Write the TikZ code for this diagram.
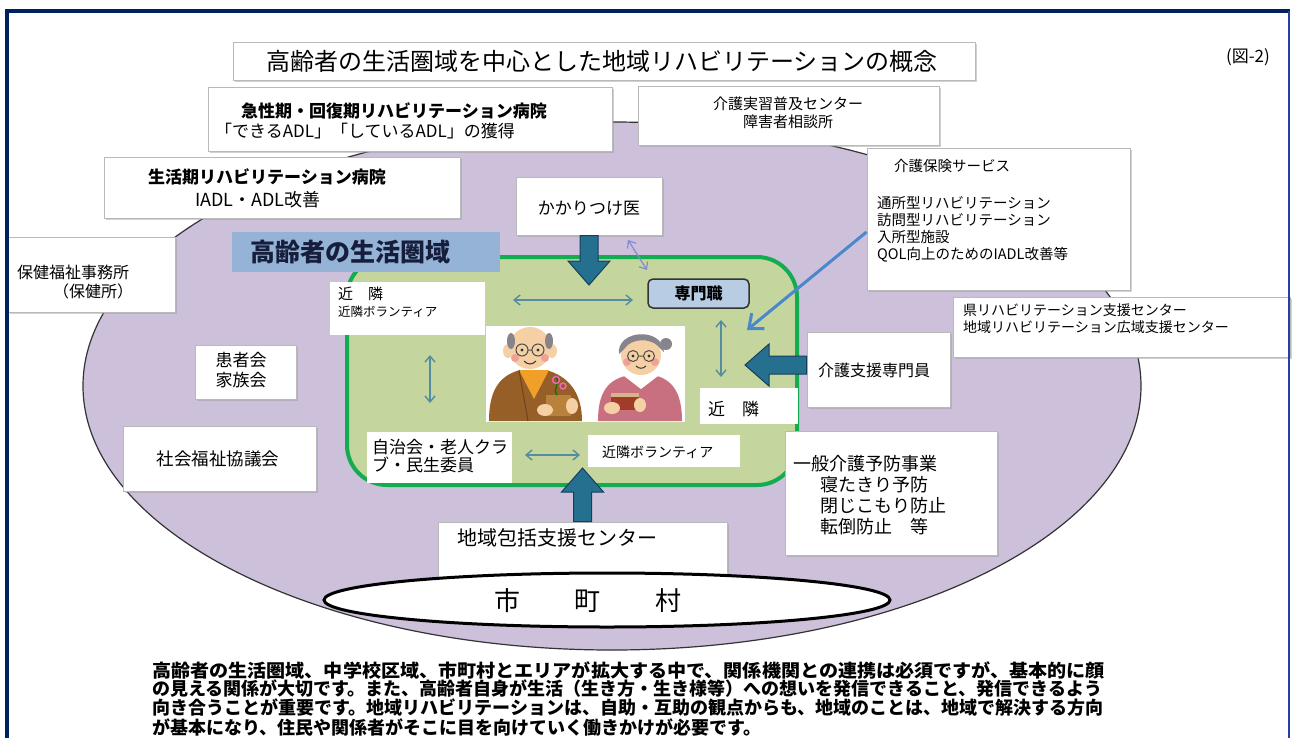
\documentclass[tikz,border=0pt]{standalone}
\usepackage{fontspec}
\usepackage{graphicx}
\setmainfont{Noto Sans CJK JP}
\usetikzlibrary{calc,arrows.meta,shadows}

\definecolor{navy}{RGB}{0,32,96}
\definecolor{rightline}{RGB}{40,60,170}
\definecolor{lav}{RGB}{204,192,218}
\definecolor{zonefill}{RGB}{196,214,158}
\definecolor{zoneline}{RGB}{20,172,80}
\definecolor{tag}{RGB}{149,179,215}
\definecolor{tagtext}{RGB}{22,30,60}
\definecolor{proflab}{RGB}{184,204,228}
\definecolor{bigarrow}{RGB}{38,112,143}
\definecolor{bigarrowline}{RGB}{22,62,92}
\definecolor{thinarrow}{RGB}{84,140,160}
\definecolor{thinpurple}{RGB}{135,135,210}
\definecolor{linkblue}{RGB}{75,135,205}
\definecolor{boxline}{RGB}{185,185,185}
\definecolor{skin}{RGB}{246,208,165}
\definecolor{cheek}{RGB}{240,160,150}
\definecolor{mancoat}{RGB}{150,95,40}
\definecolor{manshirt}{RGB}{240,160,40}
\definecolor{womancoat}{RGB}{200,112,128}
\definecolor{hairgray}{RGB}{135,132,140}
\definecolor{cupgold}{RGB}{185,130,60}
\definecolor{cupred}{RGB}{160,60,40}

\newcommand\fsz[2]{\fontsize{#1pt}{#2pt}\selectfont}

% filled block arrow from #1 to #2 (shaft 18, head 42 wide, 24 long)
\newcommand\blockarrow[2]{%
  \coordinate (ba-h) at ($(#2)!24pt!(#1)$);
  \filldraw[fill=bigarrow, draw=bigarrowline, line width=1pt, line join=miter]
    ($(#1)!9pt!90:(#2)$) -- ($(ba-h)!9pt!90:(#2)$) -- ($(ba-h)!21pt!90:(#2)$)
    -- (#2) -- ($(ba-h)!21pt!-90:(#2)$) -- ($(ba-h)!9pt!-90:(#2)$)
    -- ($(#1)!9pt!-90:(#2)$) -- cycle;}

\tikzset{
  box/.style={draw=boxline, line width=1pt, fill=white, inner sep=0pt,
    drop shadow={shadow xshift=2pt, shadow yshift=-2pt, fill=black!40, opacity=0.45}},
  plainbox/.style={fill=white, inner sep=0pt},
  txt/.style={inner sep=0pt, align=left},
  twoway/.style={draw=thinarrow, line width=1.4pt,
    {Straight Barb[length=6pt,width=10pt]}-{Straight Barb[length=6pt,width=10pt]}},
}

\begin{document}
\begin{tikzpicture}[x=1pt,y=-1pt]
\useasboundingbox (0,0) rectangle (1294,737);
\fill[white] (0,0) rectangle (1294,737);

% community region
\filldraw[fill=lav, draw=black!80, line width=1.2pt] (612,386) ellipse [x radius=529pt, y radius=264pt];

% daily living zone
\node[draw=zoneline, line width=4pt, fill=zonefill, rounded corners=40pt,
      minimum width=450pt, minimum height=228pt, inner sep=0pt] (zone) at (572,371) {};

% zone label
\node[fill=tag, minimum width=268pt, minimum height=40pt, inner sep=0pt] (area) at (366,252) {};
\node[txt, anchor=west, text=tagtext, font={\fsz{25}{28}\bfseries}] (areaText) at (250,252) {高齢者の生活圏域};

% title
\node[box, minimum width=742pt, minimum height=38pt] (title) at (604,61) {};
\node[txt, font={\fsz{24}{28}}] (titleText) at (602,61) {高齢者の生活圏域を中心とした地域リハビリテーションの概念};
\node[txt, font={\fsz{17}{20}}] (fignum) at (1248,57) {(図-2)};

% hospitals and centres around the top
\node[box, minimum width=404pt, minimum height=64pt] (acute) at (410,119) {};
\node[txt, anchor=west, font={\fsz{17}{20}\bfseries}] (acuteA) at (241,111) {急性期・回復期リハビリテーション病院};
\node[txt, anchor=west, font={\fsz{17}{20}}] (acuteB) at (215,131) {「できるADL」「しているADL」の獲得};

\node[box, minimum width=301pt, minimum height=59pt] (training) at (788.5,115.5) {};
\node[txt, align=center, font={\fsz{15}{18}}] (trainingText) at (788,113) {介護実習普及センター\\障害者相談所};

\node[box, minimum width=356pt, minimum height=61pt] (chronic) at (282,187.5) {};
\node[txt, font={\fsz{17}{20}\bfseries}] (chronicA) at (267,177) {生活期リハビリテーション病院};
\node[txt, font={\fsz{18}{20}}] (chronicB) at (258,200) {IADL・ADL改善};

\node[box, minimum width=167pt, minimum height=75pt] (health) at (91.5,274.5) {};
\node[txt, anchor=west, font={\fsz{16}{18}}] (healthA) at (17,272) {保健福祉事務所};
\node[txt, font={\fsz{16}{18}}] (healthB) at (93,291) {（保健所）};

\node[box, minimum width=146pt, minimum height=58pt] (kakari) at (589,206) {};
\node[txt, font={\fsz{17}{20}}] (kakariText) at (589,208) {かかりつけ医};

\node[box, minimum width=263pt, minimum height=142pt] (ins) at (998.5,219) {};
\node[txt, font={\fsz{14.5}{17}}] (insTitle) at (952,166) {介護保険サービス};
\node[txt, anchor=north west, font={\fsz{14.5}{17}}] (insList) at (877,196) {通所型リハビリテーション\\訪問型リハビリテーション\\入所型施設\\QOL向上のためのIADL改善等};

\node[box, minimum width=337pt, minimum height=60pt] (pref) at (1121.5,327) {};
\node[txt, anchor=west, font={\fsz{14}{17}}] (prefText) at (963,319) {県リハビリテーション支援センター\\地域リハビリテーション広域支援センター};

\node[box, minimum width=143pt, minimum height=75pt] (caremgr) at (878.5,369.5) {};
\node[txt, anchor=west, font={\fsz{16}{18}}] (caremgrText) at (818,370) {介護支援専門員};

\node[box, minimum width=212pt, minimum height=124pt] (prevent) at (891,493) {};
\node[txt, anchor=north west, font={\fsz{18}{21}}] (preventText) at (793,455) {一般介護予防事業\\\hspace*{27pt}寝たきり予防\\\hspace*{27pt}閉じこもり防止\\\hspace*{27pt}転倒防止　等};

\node[box, minimum width=101pt, minimum height=54pt] (patients) at (245.5,372) {};
\node[txt, align=center, font={\fsz{17}{20}}] (patientsText) at (241,370) {患者会\\家族会};

\node[box, minimum width=193pt, minimum height=65pt] (welfare) at (219.5,458.5) {};
\node[txt, font={\fsz{17.5}{20}}] (welfareText) at (218,459) {社会福祉協議会};

% inside the daily living zone
\node[plainbox, minimum width=155pt, minimum height=53pt] (nbrA) at (407.5,308.5) {};
\node[txt, anchor=west, font={\fsz{15}{17}}] (nbrAText1) at (338,294) {近　隣};
\node[txt, anchor=west, font={\fsz{12.5}{14}}] (nbrAText2) at (338,312) {近隣ボランティア};

\node[draw=black!80, line width=1.5pt, fill=proflab, rounded corners=5pt, inner sep=0pt,
      minimum width=101pt, minimum height=29pt, font={\fsz{16}{18}\bfseries}] (prof) at (698.5,293.5) {専門職};

\node[plainbox, minimum width=199pt, minimum height=96pt] (photo) at (585.5,374) {};

\node[plainbox, minimum width=98pt, minimum height=36pt] (nbrB) at (749,406) {};
\node[txt, anchor=west, font={\fsz{17}{20}}] (nbrBText) at (708,409) {近　隣};

\node[plainbox, minimum width=145pt, minimum height=51pt] (club) at (439.5,457.5) {};
\node[txt, anchor=west, font={\fsz{17}{18}}] (clubText) at (372,456) {自治会・老人クラ\\ブ・民生委員};

\node[plainbox, minimum width=152pt, minimum height=32pt] (vol) at (664,451) {};
\node[txt, anchor=west, font={\fsz{14}{16}}] (volText) at (602,452) {近隣ボランティア};

% elderly couple
\begin{scope}
  % man
  \fill[mancoat] (489,421) .. controls (489,392) and (498,376) .. (520,370) -- (546,370)
    .. controls (568,376) and (582,392) .. (582,421) -- cycle;
  \fill[manshirt] (519,370) -- (549,370) -- (534,399) -- cycle;
  \draw[mancoat!70!black, line width=1pt] (519,370) -- (528,421);
  \fill[skin] (508,351) ellipse [x radius=5pt, y radius=7pt];
  \fill[skin] (552,351) ellipse [x radius=5pt, y radius=7pt];
  \fill[skin] (530,348) ellipse [x radius=21pt, y radius=21pt];
  \fill[hairgray] (511,341) ellipse [x radius=4pt, y radius=8pt];
  \fill[hairgray] (549,341) ellipse [x radius=4pt, y radius=8pt];
  \fill[cheek] (515,358) circle [radius=4pt];
  \fill[cheek] (545,358) circle [radius=4pt];
  \draw[black!70, line width=1pt] (522,350) circle [radius=6pt] (538,350) circle [radius=6pt]
    (528,350) -- (532,350);
  \fill[black!80] (522,350) circle [radius=1.6pt] (538,350) circle [radius=1.6pt];
  \draw[black!80, line width=1pt] (524,361) .. controls (528,365) and (532,365) .. (536,361);
  \fill[cupgold] (546,395) rectangle (571,416);
  \draw[green!45!black, line width=1.2pt] (557,395) .. controls (552,388) and (561,384) .. (556,377);
  \draw[magenta!60, line width=1.4pt] (556,380) circle [radius=3.5pt] (563,386) circle [radius=3pt];
  \fill[skin] (545,410) ellipse [x radius=8pt, y radius=6pt];
  \fill[skin] (572,406) ellipse [x radius=6pt, y radius=8pt];
  % woman
  \fill[womancoat] (598,421) .. controls (598,395) and (606,381) .. (625,376) -- (657,376)
    .. controls (674,381) and (682,395) .. (682,421) -- cycle;
  \fill[white] (624,376) -- (641,389) -- (658,376) -- (651,371) -- (631,371) -- cycle;
  \fill[skin] (641,355) ellipse [x radius=20pt, y radius=20pt];
  \fill[hairgray] (619,354) .. controls (616,330) and (662,326) .. (664,352)
    -- (658,346) .. controls (650,338) and (632,338) .. (625,348) -- cycle;
  \fill[hairgray] (666,344) circle [radius=6pt];
  \fill[cheek] (627,362) circle [radius=4pt];
  \fill[cheek] (655,362) circle [radius=4pt];
  \draw[black!70, line width=1pt] (633,356) circle [radius=5.5pt] (649,356) circle [radius=5.5pt]
    (638.5,356) -- (643.5,356);
  \fill[black!80] (633,356) circle [radius=1.6pt] (649,356) circle [radius=1.6pt];
  \draw[black!80, line width=1pt] (636,366) .. controls (639,369) and (643,369) .. (646,366);
  \fill[cupred] (611,393) rectangle (639,410);
  \fill[cupgold!60] (611,393) rectangle (639,397);
  \fill[skin] (612,408) ellipse [x radius=8pt, y radius=6pt];
  \fill[skin] (640,405) ellipse [x radius=6pt, y radius=7pt];
\end{scope}

% thin two-way links
\coordinate (hA1) at (513,300); \coordinate (hA2) at (633,300);
\coordinate (vL1) at (430,355); \coordinate (vL2) at (430,403);
\coordinate (vR1) at (721,320); \coordinate (vR2) at (721,377);
\coordinate (hB1) at (525,455); \coordinate (hB2) at (580,455);
\coordinate (dg1) at (628,240); \coordinate (dg2) at (647,270);
\draw[twoway] (hA1) -- (hA2);
\draw[twoway] (vL1) -- (vL2);
\draw[twoway] (vR1) -- (vR2);
\draw[twoway] (hB1) -- (hB2);
\draw[twoway, draw=thinpurple, line width=1.2pt] (dg1) -- (dg2);

% insurance services into the zone
\coordinate (linkTip) at (747,330);
\draw[linkblue, line width=3pt, -{Straight Barb[length=12pt,width=20pt]}] ([yshift=-13pt]ins.west) -- (linkTip);

% block arrows
\coordinate (kakariTip) at (589,285);
\blockarrow{kakari.south}{kakariTip}
\coordinate (cmTip) at (745,365);
\coordinate (cmTail) at (caremgr.west |- cmTip);
\blockarrow{cmTail}{cmTip}

% regional support centre and municipality
\node[box, minimum width=289pt, minimum height=56pt] (hub) at (582.5,550) {};
\node[txt, anchor=west, font={\fsz{20}{22}}] (hubText) at (457,538) {地域包括支援センター};
\coordinate (hubTip) at (582.5,468);
\blockarrow{hub.north}{hubTip}

\filldraw[fill=white, draw=black, line width=3pt] (607,600) ellipse [x radius=283pt, y radius=27pt];
\node[txt, font={\fsz{26}{28}}] (city) at (588,601) {市\hspace{55pt}町\hspace{55pt}村};

% closing remarks
\node[txt, anchor=west, font={\fsz{18}{20}\bfseries}] (noteA) at (152,670) {\scalebox{1.06}[1]{高齢者の生活圏域、中学校区域、市町村とエリアが拡大する中で、関係機関との連携は必須ですが、基本的に顔}};
\node[txt, anchor=west, font={\fsz{18}{20}\bfseries}] (noteB) at (152,689) {の見える関係が大切です。また、高齢者自身が生活（生き方・生き様等）への想いを発信できること、発信できるよう};
\node[txt, anchor=west, font={\fsz{18}{20}\bfseries}] (noteC) at (152,708) {向き合うことが重要です。地域リハビリテーションは、自助・互助の観点からも、地域のことは、地域で解決する方向};
\node[txt, anchor=west, font={\fsz{18}{20}\bfseries}] (noteD) at (152,727) {が基本になり、住民や関係者がそこに目を向けていく働きかけが必要です。};

% frame
\draw[navy, line width=4pt] (7,740) -- (7,11) -- (1290,11);
\draw[rightline, line width=2.5pt] (1289,11) -- (1289,740);
\end{tikzpicture}
\end{document}
